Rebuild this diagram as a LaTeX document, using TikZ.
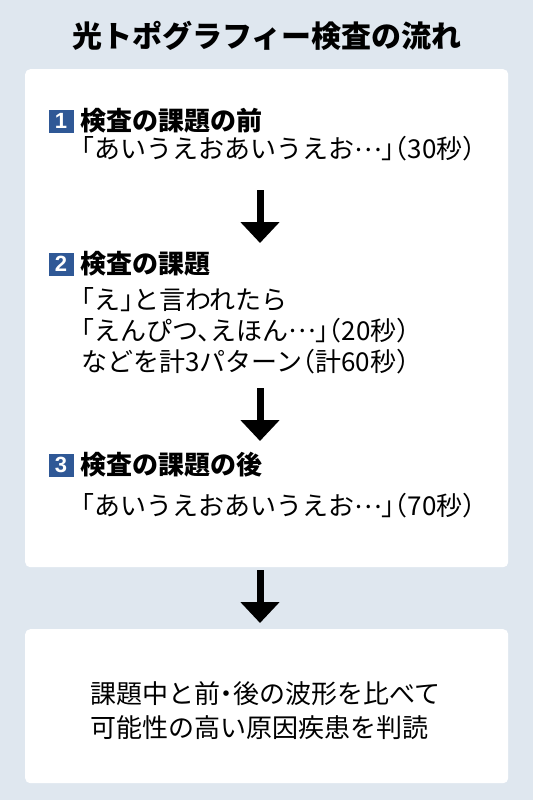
\documentclass[tikz,border=0pt]{standalone}
\usepackage{fontspec}
\setmainfont{Noto Sans CJK JP}
\newfontfamily\jpbody[RawFeature={+halt}]{Noto Sans CJK JP}
\newfontfamily\numfont{Liberation Sans}
\usetikzlibrary{arrows.meta}
\definecolor{bgcol}{RGB}{223,231,239}
\definecolor{numblue}{RGB}{47,88,150}
\newcommand\jpdots{\raisebox{0.3em}{…}}
\begin{document}
\begin{tikzpicture}[x=1pt,y=-1pt,
  panel/.style={fill=white, rounded corners=5pt, inner sep=0pt, anchor=north west},
  numbox/.style={fill=numblue, text=white, font=\numfont\bfseries\fontsize{22}{22}\selectfont, minimum width=25pt, minimum height=23pt, inner sep=0pt},
  heading/.style={anchor=west, inner sep=0pt, font=\jpbody\bfseries\fontsize{26}{26}\selectfont},
  body/.style={anchor=west, inner sep=0pt, font=\jpbody\fontsize{26}{31}\selectfont, align=left},
  flowarrow/.style={line width=7pt, -{Triangle[width=38pt,length=21pt]}}
]
\fill[bgcol] (0,0) rectangle (533,800);
\useasboundingbox (0,0) rectangle (533,800);
\node[font=\jpbody\bfseries\fontsize{30}{30}\selectfont, inner sep=0pt] (title) at (267,36) {光トポグラフィー検査の流れ};
\node[panel, minimum width=483pt, minimum height=498pt] (panelA) at (25,69) {};
\node[panel, minimum width=483pt, minimum height=154pt] (panelB) at (25,629) {};
% step 1
\node[numbox] (n1) at (61,121) {1};
\node[heading] (h1) at (80,121) {検査の課題の前};
\node[body] (b1) at (81,149) {「あいうえおあいうえお\jpdots」（30秒）};
% step 2
\node[numbox] (n2) at (61,264) {2};
\node[heading] (h2) at (80,264) {検査の課題};
\node[body] (b2) at (81,331) {「え」と言われたら\\「えんぴつ、えほん\jpdots」（20秒）\\などを計3パターン（計60秒）};
% step 3
\node[numbox] (n3) at (61,465) {3};
\node[heading] (h3) at (80,465) {検査の課題の後};
\node[body] (b3) at (81,506) {「あいうえおあいうえお\jpdots」（70秒）};
% result
\node[anchor=west, inner sep=0pt, font=\jpbody\fontsize{26}{34}\selectfont, align=left] (res) at (90,711) {課題中と前・後の波形を比べて\\可能性の高い原因疾患を判読};
% arrows
\coordinate (a1s) at (260,190);
\coordinate (a1e) at (260,243);
\coordinate (a2s) at (260,388);
\coordinate (a2e) at (260,441);
\coordinate (a3s) at (260,570);
\coordinate (a3e) at (260,623);
\draw[flowarrow] (a1s) -- (a1e);
\draw[flowarrow] (a2s) -- (a2e);
\draw[flowarrow] (a3s) -- (a3e);
\end{tikzpicture}
\end{document}
